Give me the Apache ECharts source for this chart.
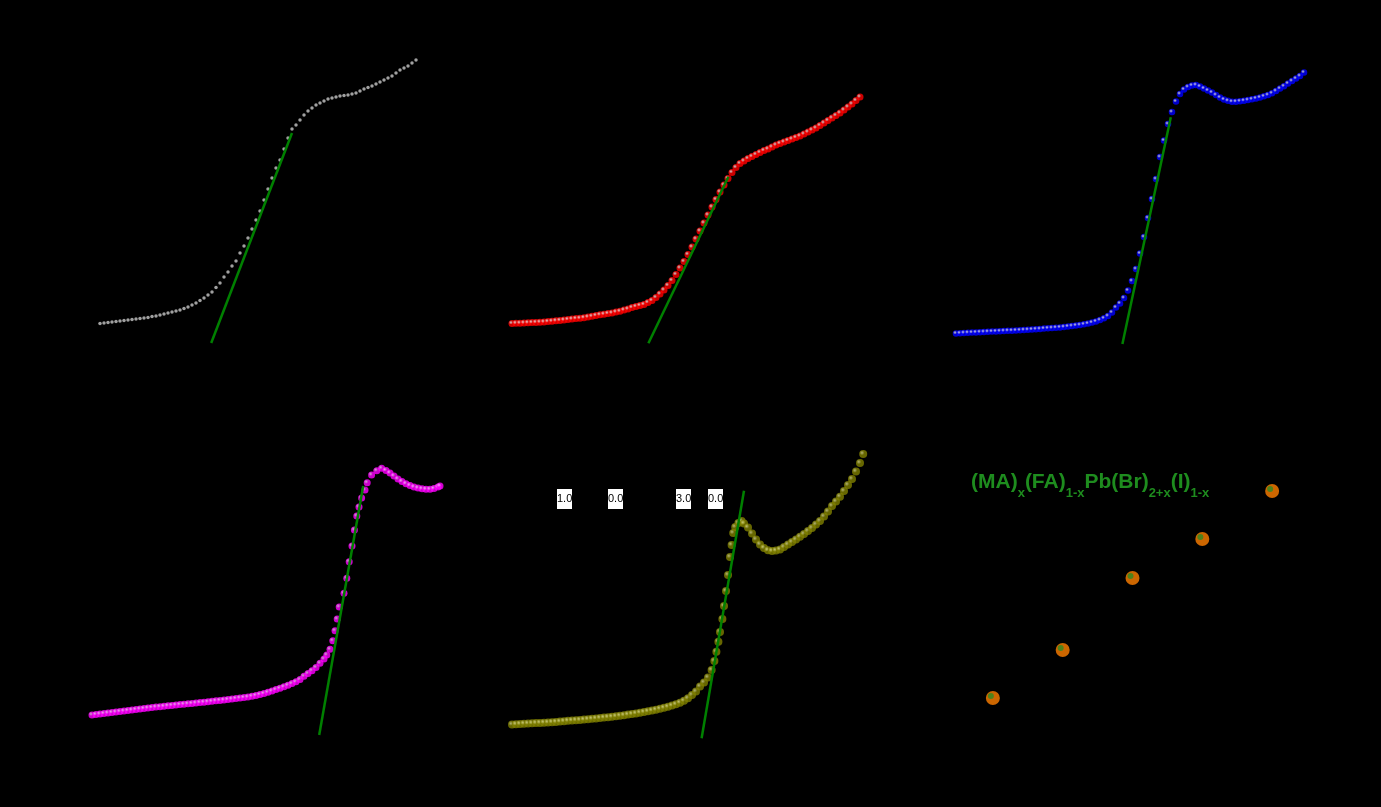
<!DOCTYPE html>
<html><head><meta charset="utf-8">
<script src="https://cdn.jsdelivr.net/npm/echarts@6/dist/echarts.min.js"></script>
<style>html,body{margin:0;padding:0;background:#000;}#c{width:1381px;height:807px;}</style>
</head><body><div id="c"></div>
<script>
// Panel 1 (white markers): photon energy (eV) and Tauc value (a.u.)
const E1 = [1.55,1.56,1.57,1.58,1.59,1.60,1.61,1.62,1.63,1.64,1.65,1.66,1.67,1.68,1.69,1.70,1.71,1.72,1.73,1.74,1.75,1.76,1.77,1.78,1.79,1.80,1.81,1.82,1.83,1.84,1.85,1.86,1.87,1.88,1.89,1.90,1.91,1.92,1.93,1.94,1.95,1.96,1.97,1.98,1.99,2.00,2.01,2.02,2.03,2.04,2.05,2.06,2.07,2.08,2.09,2.10,2.11,2.12,2.13,2.14,2.15,2.16,2.17,2.18,2.19,2.20,2.21,2.22,2.23,2.24,2.25,2.26,2.27,2.28,2.29,2.30,2.31,2.32,2.33,2.34];
const A1 = [21.5,22,22.5,23,23.5,24,24.5,25,25.5,26,26.5,27,27.5,28.5,29,30,31,32,33,34,35,36.5,38,40,42,44.5,47,50,53,57.5,62,68,73,79,84,92,99,107,116,125,134,145,156,167,177,185,196,207,216,220,225,230,234,237,240,242,244,246,247,248,249,249.5,250,251,252,254,256,257.5,259,261,263,265,267,269,272,275,277,279,282,285];
const FIT1 = [[1.828,2],[2.030,212]];

// Panel 2 (red markers)
const E2 = [1.53,1.54,1.55,1.56,1.57,1.58,1.59,1.60,1.61,1.62,1.63,1.64,1.65,1.66,1.67,1.68,1.69,1.70,1.71,1.72,1.73,1.74,1.75,1.76,1.77,1.78,1.79,1.80,1.81,1.82,1.83,1.84,1.85,1.86,1.87,1.88,1.89,1.90,1.91,1.92,1.93,1.94,1.95,1.96,1.97,1.98,1.99,2.00,2.01,2.02,2.03,2.04,2.05,2.06,2.07,2.08,2.09,2.10,2.11,2.12,2.13,2.14,2.15,2.16,2.17,2.18,2.19,2.20,2.21,2.22,2.23,2.24,2.25,2.26,2.27,2.28,2.29,2.30,2.31,2.32,2.33,2.34,2.35,2.36,2.37,2.38,2.39,2.40];
const A2 = [21.5,21.7,21.8,22,22.2,22.4,22.6,22.8,23,23.4,23.8,24.2,24.6,25,25.5,26,26.4,26.7,27.3,28,28.7,29.5,30.2,30.8,31.5,32,33,33.7,35,36,37.5,38.5,39.5,40.5,42.5,44.5,47.5,51,55,59.5,64.5,70.5,77,83.5,90.5,98,106,114,122,130,138,145.5,153,160,166.5,172.5,177.5,181.5,184,186.5,188.5,190.5,192.5,194.5,196,198,200,201.5,203,204.5,206,207.5,209,211,213,215,217,219.5,222,224.5,227,229.5,232,235,238,241,244.5,248];
const FIT2 = [[1.871,1.7],[2.071,168.3]];

// Panel 3 (blue markers)
const E3 = [1.54,1.55,1.56,1.57,1.58,1.59,1.60,1.61,1.62,1.63,1.64,1.65,1.66,1.67,1.68,1.69,1.70,1.71,1.72,1.73,1.74,1.75,1.76,1.77,1.78,1.79,1.80,1.81,1.82,1.83,1.84,1.85,1.86,1.87,1.88,1.89,1.90,1.91,1.92,1.93,1.94,1.95,1.96,1.97,1.98,1.99,2.00,2.01,2.02,2.03,2.04,2.05,2.06,2.07,2.08,2.09,2.10,2.11,2.12,2.13,2.14,2.15,2.16,2.17,2.18,2.19,2.20,2.21,2.22,2.23,2.24,2.25,2.26,2.27,2.28,2.29,2.30,2.31,2.32,2.33,2.34,2.35,2.36,2.37,2.38,2.39,2.40,2.41];
const A3 = [11.5,11.7,12,12.2,12.4,12.6,12.8,13,13.2,13.4,13.6,13.8,14,14.2,14.3,14.5,14.7,15,15.2,15.5,15.8,16,16.4,16.7,17,17.3,17.6,18,18.5,19,19.5,20,20.7,21.4,22.4,23.6,25,26.7,29,32.5,37.5,41.5,47,54.5,64,76,91.5,108,127,146,166,188,204.5,221,233,243.5,251,255.5,258,259.5,260,258.5,256.5,254.5,252.5,250,247.5,245.5,244.2,243.3,243.3,243.8,244.3,245,245.8,246.6,247.5,248.7,250,251.8,254,256.4,258.8,261.5,264,266.4,269,272.5];
const FIT3 = [[1.956,1],[2.077,227.7]];

// Panel 4 (magenta markers)
const E4 = [1.53,1.54,1.55,1.56,1.57,1.58,1.59,1.60,1.61,1.62,1.63,1.64,1.65,1.66,1.67,1.68,1.69,1.70,1.71,1.72,1.73,1.74,1.75,1.76,1.77,1.78,1.79,1.80,1.81,1.82,1.83,1.84,1.85,1.86,1.87,1.88,1.89,1.90,1.91,1.92,1.93,1.94,1.95,1.96,1.97,1.98,1.99,2.00,2.01,2.02,2.03,2.04,2.05,2.06,2.07,2.08,2.09,2.10,2.11,2.117,2.125,2.132,2.1375,2.143,2.148,2.16,2.167,2.173,2.18,2.186,2.192,2.1975,2.204,2.2125,2.218,2.229,2.242,2.254,2.265,2.275,2.285,2.295,2.305,2.315,2.325,2.335,2.345,2.355,2.365,2.375,2.385,2.395,2.40];
const A4 = [25,25.5,26,26.5,27,27.5,28,28.5,29,29.5,30,30.5,31,31.5,32,32.5,33,33.3,33.7,34.2,34.6,35,35.4,35.8,36.2,36.6,37,37.4,37.8,38.2,38.7,39.2,39.6,40,40.5,41,41.5,42,42.5,43,43.8,44.6,45.5,46.5,47.7,49,50.4,51.7,53.2,54.8,56.4,58.2,60.5,63.7,66.5,69.3,72.5,76.7,81,85,90.7,99.3,109.3,121,133,146.7,161.7,178.3,194,210,224,233,242,250,257.3,265,269.3,271.7,269.5,267,264,261,258.5,256.3,254.5,253,252,251.2,250.8,250.7,251.4,253,254];
const FIT4 = [[2.098,5],[2.208,254]];

// Panel 5 (olive markers)
const E5 = [1.53,1.54,1.55,1.56,1.57,1.58,1.59,1.60,1.61,1.62,1.63,1.64,1.65,1.66,1.67,1.68,1.69,1.70,1.71,1.72,1.73,1.74,1.75,1.76,1.77,1.78,1.79,1.80,1.81,1.82,1.83,1.84,1.85,1.86,1.87,1.88,1.89,1.90,1.91,1.92,1.93,1.94,1.95,1.96,1.97,1.98,1.99,2.00,2.01,2.02,2.029,2.036,2.041,2.046,2.05,2.056,2.06,2.065,2.07,2.075,2.079,2.083,2.088,2.096,2.104,2.11,2.12,2.13,2.14,2.15,2.16,2.17,2.18,2.19,2.20,2.21,2.22,2.23,2.24,2.25,2.26,2.27,2.28,2.29,2.30,2.31,2.32,2.33,2.34,2.35,2.36,2.37,2.38,2.39,2.40,2.408];
const A5 = [15.4,15.7,16,16.3,16.5,16.7,16.9,17.1,17.3,17.5,17.8,18.1,18.4,18.8,19.2,19.5,19.8,20,20.4,20.8,21.2,21.6,22,22.4,22.8,23.2,23.7,24.2,24.8,25.4,26,26.6,27.3,28,28.7,29.5,30.3,31.2,32.2,33.2,34.4,35.7,37.3,39.3,41.8,45,48.5,53.5,57.5,62.5,70,79,88.3,98.3,108,121,134,149,165,183,195,207,213,217,219,216.5,212.5,206.5,200.5,195.5,192,189.7,189,189.4,190.5,193,195.5,198,200.5,203.3,206,209,212,215.5,219,223.5,228.5,234,238.5,243.3,249,255,261,268.5,277,286];
const FIT5 = [[2.004,1.7],[2.110,249.3]];
const BOX_LABELS = ['1.0','0.0','3.0','0.0'];

// Panel 6: composition x vs band gap (eV)
const COMP = [0, 0.25, 0.5, 0.75, 1.0];
const EG = [1.64, 1.80, 2.04, 2.17, 2.33];
const FORMULA = '{m|(MA)}{s|x}{m|(FA)}{s|1-x}{m|Pb(Br)}{s|2+x}{m|(I)}{s|1-x}';

const zip = (a, b) => a.map((v, i) => [v, b[i]]);
const ball = (base, hi) => new echarts.graphic.RadialGradient(0.35, 0.35, 0.75, [
  {offset: 0, color: hi}, {offset: 0.4, color: base}, {offset: 1, color: base}]);

const chart = echarts.init(document.getElementById('c'), null, {renderer: 'canvas'});
const gridDefs = [
  {left: 80, top: 45, width: 400, height: 300},
  {left: 500, top: 45, width: 400, height: 300},
  {left: 940, top: 45, width: 400, height: 300},
  {left: 80, top: 440, width: 400, height: 300},
  {left: 500, top: 440, width: 400, height: 300},
  {left: 937, top: 440, width: 391, height: 300}
];
const hidden = {axisLine: {show: false}, axisTick: {show: false}, axisLabel: {show: false}, splitLine: {show: false}};
const xAxes = gridDefs.map((g, i) => Object.assign({type: 'value', gridIndex: i,
  min: i === 5 ? -0.2 : 1.5, max: i === 5 ? 1.2 : 2.5}, hidden));
const yAxes = gridDefs.map((g, i) => Object.assign({type: 'value', gridIndex: i,
  min: i === 5 ? 1.5 : 0, max: i === 5 ? 2.5 : 300}, hidden));

function tauc(idx, E, A, fit, color, size) {
  return [
    {type: 'scatter', xAxisIndex: idx, yAxisIndex: idx, data: zip(E, A), symbolSize: size,
     itemStyle: {color: color}, z: 2, silent: true},
    {type: 'line', xAxisIndex: idx, yAxisIndex: idx, data: fit, showSymbol: false,
     lineStyle: {color: '#008000', width: 2.5}, z: 3, silent: true}
  ];
}

const series = [].concat(
  tauc(0, E1, A1, FIT1, '#c8c8c8', 3.5),
  tauc(1, E2, A2, FIT2, ball('#ff0000', '#ffffff'), 7),
  tauc(2, E3, A3, FIT3, ball('#0000ff', '#ffffff'), 6.5),
  tauc(3, E4, A4, FIT4, ball('#ff00ff', '#ffd0ff'), 7),
  tauc(4, E5, A5, FIT5, ball('#808000', '#e0e090'), 8),
  [
    {type: 'scatter', xAxisIndex: 5, yAxisIndex: 5, data: zip(COMP, EG), symbolSize: 14,
     itemStyle: {color: '#ff8000'}, z: 2, silent: true},
    {type: 'scatter', xAxisIndex: 5, yAxisIndex: 5, data: zip(COMP, EG), symbolSize: 6,
     symbolOffset: [-2, -2], itemStyle: {color: '#2e8a22'}, z: 3, silent: true}
  ]
);

const boxX = [557, 608, 676, 708];
const graphics = BOX_LABELS.map((t, i) => ({
  type: 'text', x: boxX[i], y: 489, z: 10,
  style: {text: t, fill: '#000', fontSize: 11, fontFamily: 'Liberation Sans',
    backgroundColor: '#fff', width: 15, overflow: 'none',
    lineHeight: 20, padding: [0, 0, 0, 0]}
}));
graphics.push({
  type: 'text', x: 971, y: 472, z: 10,
  style: {text: FORMULA,
    rich: {
      m: {fontSize: 21, fontWeight: 'bold', fontFamily: 'Liberation Sans', fill: '#1e8c1e', lineHeight: 26, verticalAlign: 'top'},
      s: {fontSize: 13, fontWeight: 'bold', fontFamily: 'Liberation Sans', fill: '#1e8c1e', lineHeight: 13, padding: [15, 0, 0, 0], verticalAlign: 'top'}
    }}
});

chart.setOption({
  backgroundColor: '#000',
  animation: false,
  grid: gridDefs,
  xAxis: xAxes,
  yAxis: yAxes,
  series: series,
  graphic: graphics
});
</script></body></html>
